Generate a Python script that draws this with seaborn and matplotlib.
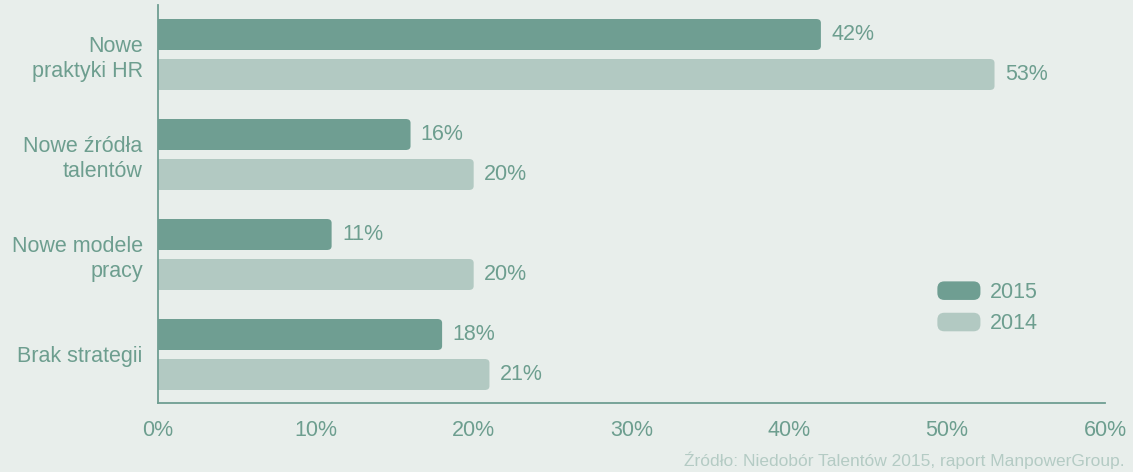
import pandas as pd
import matplotlib.pyplot as plt
import seaborn as sns
from matplotlib.patches import FancyBboxPatch
from matplotlib.legend_handler import HandlerPatch

# chart data
categories = ["Nowe\npraktyki HR", "Nowe źródła\ntalentów", "Nowe modele\npracy", "Brak strategii"]
years = ["2015", "2014"]
values_2015 = [42, 16, 11, 18]
values_2014 = [53, 20, 20, 21]
x_ticks = [0, 10, 20, 30, 40, 50, 60]
source = "Źródło: Niedobór Talentów 2015, raport ManpowerGroup."

df = pd.DataFrame({
    "kategoria": categories * 2,
    "rok": [years[0]] * 4 + [years[1]] * 4,
    "wartosc": values_2015 + values_2014,
})

bg = "#e8eeeb"
dark = "#6f9e92"
light = "#b2c9c2"
txt = "#6d9e8f"
fs = 15.5

sns.set_style("white")
plt.rcParams['font.family'] = ['Liberation Sans', 'DejaVu Sans']

fig = plt.figure(figsize=(11.33, 4.72), dpi=100, facecolor=bg)
ax = fig.add_axes([158 / 1133, 1 - 403 / 472, (1105 - 158) / 1133, 398 / 472])
ax.set_facecolor(bg)

sns.barplot(data=df, y="kategoria", x="wartosc", hue="rok", orient="h",
            palette=[dark, light], saturation=1, width=0.8, gap=0.225, ax=ax, legend=False)

# swap plain bars for rounded ones
bars = list(ax.patches)
for p in bars:
    x0, y0 = p.get_x(), p.get_y()
    w, h = p.get_width(), p.get_height()
    rp = FancyBboxPatch((x0 - 0.5, y0), w + 0.5, h,
                        boxstyle="round,pad=0,rounding_size=0.3",
                        mutation_aspect=0.13,
                        facecolor=p.get_facecolor(), edgecolor="none", zorder=2)
    ax.add_patch(rp)
    p.set_visible(False)
    ax.text(x0 + w + 0.65, y0 + h / 2, f"{int(round(w))}%", va="center", ha="left",
            fontsize=fs, color=txt)

ax.set_xlim(0, 60)
ax.set_ylim(3.485, -0.495)
ax.set_xticks(x_ticks)
ax.set_xticklabels([f"{t}%" for t in x_ticks])
ax.set_xlabel("")
ax.set_ylabel("")

for s in ["top", "right"]:
    ax.spines[s].set_visible(False)
for s in ["left", "bottom"]:
    ax.spines[s].set_color(dark)
    ax.spines[s].set_linewidth(1.3)

ax.tick_params(axis="x", direction="in", length=7, width=1.2, color=dark,
               labelsize=fs, labelcolor=txt, pad=12)
ax.tick_params(axis="y", length=0, labelsize=fs, labelcolor=txt, pad=11)
for lbl in ax.get_yticklabels():
    lbl.set_horizontalalignment("right")
    lbl.set_multialignment("right")
    lbl.set_linespacing(1.25)


class RoundHandler(HandlerPatch):
    def create_artists(self, legend, orig_handle, xdescent, ydescent, width, height, fontsize, trans):
        p = FancyBboxPatch((-xdescent, -ydescent), width, height,
                           boxstyle="round,pad=0,rounding_size=5",
                           facecolor=orig_handle.get_facecolor(), edgecolor="none")
        p.set_transform(trans)
        return [p]


# legend
handles = [plt.Rectangle((0, 0), 1, 1, facecolor=c, edgecolor="none") for c in [dark, light]]
fig.legend(handles, years, loc="upper left", bbox_to_anchor=(918 / 1133, 1 - 262 / 472),
           frameon=False, fontsize=fs, labelcolor=txt, handlelength=2.0, handleheight=0.95,
           handletextpad=0.45, labelspacing=0.45,
           handler_map={plt.Rectangle: RoundHandler()})

fig.text(1125 / 1133, 1 - 460 / 472, source, ha="right", va="center",
         fontsize=12.5, color="#b4cbc4")

fig.savefig("out.png", dpi=100, facecolor=bg)
